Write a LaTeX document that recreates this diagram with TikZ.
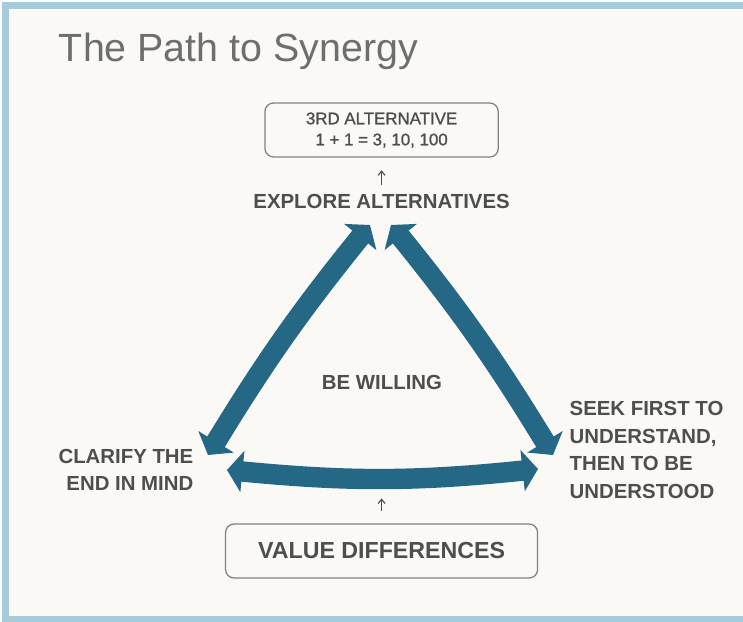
\documentclass[tikz,border=0pt]{standalone}
\usepackage{fontspec}
\setmainfont{Liberation Sans}
\newfontfamily\medfont[FakeBold=1.2]{Liberation Sans}
\usetikzlibrary{arrows.meta,bending}
\definecolor{arrowblue}{RGB}{36,104,134}
\definecolor{labelgray}{RGB}{78,78,78}
\definecolor{titlegray}{RGB}{110,110,110}
\definecolor{boxgray}{RGB}{130,130,130}
\definecolor{framecol}{RGB}{166,204,218}
\definecolor{paper}{RGB}{250,249,245}

\begin{document}
\begin{tikzpicture}[
  lbl/.style={text=labelgray,font=\bfseries\fontsize{14.5}{19.5}\selectfont,inner sep=1pt},
  rbox/.style={draw=boxgray,line width=0.9pt,rounded corners=6pt,minimum width=#1,minimum height=1.35cm},
  fat/.style={draw=arrowblue,line width=14.5pt,{Triangle[width=29pt,length=11pt]}-{Triangle[width=29pt,length=11pt]}},
  upar/.style={draw=labelgray,line width=0.8pt,-{Straight Barb[length=3pt,width=5pt]}}
]
\useasboundingbox (0,0) rectangle (18.575,15.55);
\fill[white] (0,0) rectangle (18.575,15.55);
\begin{scope}
\clip (0,0) rectangle (18.575,15.55);
\draw[draw=framecol,line width=4.5pt,fill=paper] (0.14,0.0625) rectangle (19.2,15.41);
\end{scope}

\node[anchor=base west,text=titlegray,font=\fontsize{28}{32}\selectfont] (title) at (1.35,14.0) {The Path to Synergy};

\node[rbox=5.83cm,align=center,text=labelgray,font=\medfont\fontsize{12}{15}\selectfont] (alt) at (9.54,12.3) {3RD ALTERNATIVE\\1 + 1 = 3, 10, 100};
\node[lbl] (explore) at (9.54,10.525) {EXPLORE ALTERNATIVES};
\node[lbl] (willing) at (9.55,6.0) {BE WILLING};
\node[lbl,align=right,anchor=east] (clarify) at (4.875,3.8) {CLARIFY THE\\END IN MIND};
\node[lbl,align=left,anchor=west] (seek) at (14.2,4.3) {SEEK FIRST TO\\UNDERSTAND,\\THEN TO BE\\UNDERSTOOD};
\node[rbox=7.8cm,lbl,font=\bfseries\fontsize{16.5}{20}\selectfont] (value) at (9.54,1.775) {VALUE DIFFERENCES};

\coordinate (t1) at (9.25,9.925);
\coordinate (t2) at (9.775,9.925);
\coordinate (l1) at (5.2,4.175);
\coordinate (r1) at (13.825,4.175);
\coordinate (b1) at (5.675,3.8);
\coordinate (b2) at (13.45,3.825);
\coordinate (sag) at (9.54,3.3);

\draw[fat] (l1) to[bend left=4] (t1);
\draw[fat] (t2) to[bend left=4] (r1);
\draw[fat] (b1) to[bend right=6] (b2);

\draw[upar,shorten <=5pt,shorten >=9pt] (explore.north) -- (alt.south);
\draw[upar,shorten <=8.5pt,shorten >=6pt] (value.north) -- (sag);
\end{tikzpicture}
\end{document}
